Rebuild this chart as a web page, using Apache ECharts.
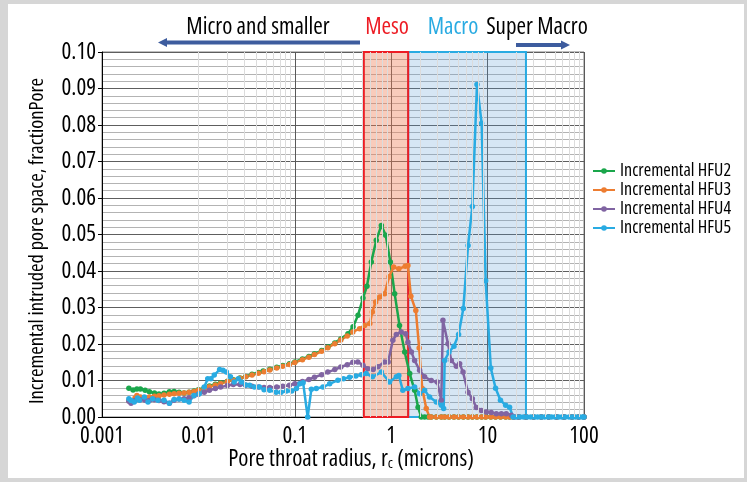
<!DOCTYPE html>
<html>
<head>
<meta charset="utf-8">
<script src="https://cdn.jsdelivr.net/npm/echarts@6/dist/echarts.min.js"></script>
<style>
  html, body { margin: 0; padding: 0; }
  #frame { position: relative; width: 747px; height: 482px; background: #d6d6d6; }
  #panel { position: absolute; left: 8px; top: 4px; width: 736px; height: 474px; background: #ffffff; }
  #chart { position: absolute; left: 0; top: 0; width: 747px; height: 482px; }
</style>
</head>
<body>
<div id="frame"><div id="panel"></div><div id="chart"></div></div>
<script>
// Tick labels
const radiusTicks = ['0.001', '0.01', '0.1', '1', '10', '100'];
const valueTicks = ['0.00', '0.01', '0.02', '0.03', '0.04', '0.05', '0.06', '0.07', '0.08', '0.09', '0.10'];

// Pore-size class bounds (microns)
const mesoRange = [0.52, 1.5];
const macroRange = [1.5, 25];

const seriesNames = ['Incremental HFU2', 'Incremental HFU3', 'Incremental HFU4', 'Incremental HFU5'];

// [pore throat radius (microns), incremental intruded pore space]
const hfu2 = [
  [0.0019,0.0079],[0.0021,0.0074],[0.0023,0.0077],[0.0025,0.0077],[0.0028,0.0073],[0.0031,0.0069],
  [0.0035,0.0066],[0.0039,0.0063],[0.0044,0.0065],[0.005,0.0069],[0.0056,0.0070],[0.0063,0.0068],
  [0.0071,0.0066],[0.008,0.0068],[0.009,0.0071],[0.01,0.0075],[0.0115,0.0080],[0.013,0.0085],
  [0.015,0.0090],[0.017,0.0094],[0.02,0.0098],[0.023,0.0102],[0.027,0.0107],[0.031,0.0111],
  [0.036,0.0117],[0.042,0.0122],[0.047,0.0126],[0.055,0.0131],[0.065,0.0136],[0.075,0.0141],
  [0.088,0.0146],[0.1,0.0151],[0.12,0.0159],[0.14,0.0166],[0.16,0.0173],[0.19,0.0182],
  [0.22,0.0192],[0.26,0.0203],[0.3,0.0214],[0.356,0.0228],[0.402,0.0247],[0.453,0.0279],
  [0.51,0.0326],[0.56,0.0358],[0.622,0.0425],[0.70,0.0484],[0.79,0.0525],[0.877,0.0498],
  [0.98,0.0425],[1.086,0.0338],[1.22,0.0251],[1.38,0.0178],[1.556,0.0119],[1.75,0.0073],
  [1.9,0.0027],[2.05,0],[2.22,0],[2.41,0],[2.6,0],[2.94,0],[3.31,0],[3.59,0],[3.98,0],[4.48,0],
  [5.0,0],[5.6,0],[6.27,0],[6.95,0],[7.76,0],[8.67,0],[9.55,0],[10.8,0],[12.1,0],[13.6,0],
  [15.4,0],[16.9,0],[18.4,0],[21,0],[25,0],[30,0],[36,0],[43,0],[52,0],[62,0],[75,0],[88,0],[100,0]
];

const hfu3 = [
  [0.0019,0.0045],[0.002,0.0041],[0.0022,0.0052],[0.0023,0.0059],[0.0025,0.0055],[0.0028,0.0052],
  [0.0031,0.0055],[0.0035,0.0057],[0.0039,0.0058],[0.0044,0.0060],[0.005,0.0062],[0.0056,0.0064],
  [0.0063,0.0065],[0.0071,0.0066],[0.008,0.0068],[0.009,0.0070],[0.01,0.0073],[0.0115,0.0078],
  [0.013,0.0083],[0.015,0.0088],[0.017,0.0092],[0.02,0.0097],[0.023,0.0101],[0.027,0.0106],
  [0.031,0.0110],[0.036,0.0115],[0.042,0.0120],[0.048,0.0124],[0.055,0.0129],[0.065,0.0134],
  [0.075,0.0139],[0.088,0.0144],[0.1,0.0149],[0.12,0.0157],[0.14,0.0164],[0.16,0.0171],
  [0.19,0.0180],[0.22,0.0190],[0.26,0.0201],[0.3,0.0211],[0.35,0.0222],[0.4,0.0233],
  [0.47,0.0242],[0.53,0.0251],[0.6,0.0256],[0.637,0.0288],[0.69,0.0315],[0.76,0.0329],
  [0.855,0.0338],[0.95,0.0384],[1.06,0.0411],[1.2,0.0406],[1.4,0.0413],[1.49,0.0415],
  [1.6,0.0331],[1.8,0.0292],[1.95,0.0189],[2.1,0.0078],[2.31,0.0023],[2.5,0],
  [2.6,0],[2.94,0],[3.31,0],[3.59,0],[3.98,0],[4.48,0],[5.0,0],[5.6,0],[6.27,0],[6.95,0],
  [7.76,0],[8.67,0],[9.55,0],[10.8,0],[12.1,0],[13.6,0],[15.4,0],[16.9,0],[18.4,0],
  [21,0],[25,0],[30,0],[36,0],[43,0],[52,0],[62,0],[75,0],[88,0],[100,0]
];

const hfu4 = [
  [0.0019,0.0043],[0.002,0.0038],[0.0022,0.0045],[0.0025,0.0047],[0.0028,0.0046],[0.0031,0.0045],
  [0.0035,0.0047],[0.0039,0.0045],[0.0044,0.0042],[0.005,0.0038],[0.0056,0.0046],[0.0063,0.0049],
  [0.0071,0.0050],[0.008,0.0053],[0.009,0.0058],[0.01,0.0062],[0.0115,0.0068],[0.013,0.0073],
  [0.015,0.0078],[0.017,0.0082],[0.02,0.0086],[0.023,0.0089],[0.027,0.0089],[0.031,0.0087],
  [0.036,0.0084],[0.042,0.0082],[0.048,0.0081],[0.055,0.0081],[0.065,0.0082],[0.075,0.0084],
  [0.088,0.0087],[0.1,0.0091],[0.12,0.0097],[0.14,0.0103],[0.16,0.0109],[0.19,0.0116],
  [0.22,0.0123],[0.26,0.0130],[0.3,0.0137],[0.35,0.0143],[0.4,0.0150],[0.45,0.0151],
  [0.51,0.0142],[0.57,0.0132],[0.65,0.0130],[0.73,0.0138],[0.855,0.0151],[0.93,0.0151],
  [1.04,0.0210],[1.13,0.0226],[1.27,0.0233],[1.41,0.0228],[1.49,0.0205],[1.62,0.0178],
  [1.75,0.0155],[1.97,0.0128],[2.22,0.0110],[2.6,0.0100],[3.0,0.0096],[3.31,0.0046],
  [3.44,0.0265],[3.88,0.0201],[4.2,0.0155],[4.74,0.0139],[5.13,0.0146],[5.56,0.0123],
  [6.26,0.0068],[6.95,0.0050],[7.64,0.0026],[8.6,0.0018],[9.7,0.0014],[10.9,0.0012],
  [12.3,0.0009],[13.9,0.0009],[15.6,0.0009],[17.6,0.0005],[19.1,0],
  [21,0],[25,0],[30,0],[36,0],[43,0],[52,0],[62,0],[75,0],[88,0],[100,0]
];

const hfu5 = [
  [0.0019,0.0050],[0.002,0.0045],[0.00216,0.0041],[0.00234,0.0052],[0.00244,0.0046],[0.00275,0.0055],
  [0.003,0.0041],[0.00335,0.0050],[0.0038,0.0046],[0.0044,0.0046],[0.005,0.0038],[0.0056,0.0048],
  [0.0063,0.0049],[0.0071,0.0046],[0.008,0.0041],[0.009,0.0059],[0.0102,0.0064],[0.0115,0.0082],
  [0.0125,0.0105],[0.0135,0.0105],[0.0146,0.0115],[0.0166,0.0130],[0.018,0.0128],[0.0195,0.0123],
  [0.0215,0.0110],[0.0235,0.0096],[0.026,0.0105],[0.028,0.0096],[0.031,0.0088],[0.034,0.0087],
  [0.038,0.0082],[0.043,0.0082],[0.048,0.0075],[0.055,0.0073],[0.064,0.0068],[0.072,0.0068],
  [0.082,0.0071],[0.093,0.0071],[0.104,0.0078],[0.113,0.0091],[0.122,0.0094],[0.136,0],
  [0.1485,0.0076],[0.167,0.0078],[0.196,0.0082],[0.23,0.0091],[0.28,0.0101],[0.32,0.0105],
  [0.37,0.0109],[0.43,0.0112],[0.49,0.0116],[0.55,0.0119],[0.64,0.0110],[0.79,0.0123],
  [0.96,0.0096],[1.13,0.0110],[1.2,0.0114],[1.32,0.0073],[1.49,0.0078],[1.75,0.0082],
  [1.97,0.0064],[2.22,0.0073],[2.5,0.0055],[2.94,0.0041],[3.31,0.0032],[3.5,0.0023],
  [3.59,0.0155],[3.98,0.0178],[4.48,0.0194],[5.0,0.0226],[5.6,0.0297],[6.27,0.0470],
  [6.95,0.0577],[7.76,0.0911],[8.67,0.0805],[9.55,0.0373],[10.8,0.0134],[12.1,0.0079],
  [13.6,0.0046],[15.4,0.0032],[16.9,0.0027],[18.4,0],[20,0],[21.7,0],[23.6,0],[25.7,0],
  [28,0],[30.5,0],[33,0],[36,0],[39,0],[42.5,0],[46,0],[50,0],[54.5,0],[59,0],[64,0],
  [70,0],[76,0],[82,0],[89,0],[96,0],[100,0]
];

// Condensed sans for all chart text
const FAMILY = "'Open Sans', sans-serif";
const STRETCH = 'condensed';
const font = px => STRETCH + ' ' + px + 'px ' + FAMILY;

const colors = ['#1aa64b', '#ed7d31', '#8064a2', '#29abe2'];

// light vertical grid at 2..9 within each decade
const minorRadii = [];
for (let k = -3; k <= 1; k++) {
  for (let m = 2; m <= 9; m++) minorRadii.push(+(m * Math.pow(10, k)).toPrecision(3));
}

function curve(name, data, color) {
  return {
    name, type: 'line', data, color,
    symbol: 'circle', symbolSize: 5.5, showSymbol: true,
    lineStyle: { width: 2.5, color },
    itemStyle: { color },
    clip: false, z: 3
  };
}

const chart = echarts.init(document.getElementById('chart'), null, { renderer: 'canvas' });

chart.setOption({
  animation: false,
  backgroundColor: 'transparent',
  textStyle: { fontFamily: FAMILY, fontStyle: STRETCH },
  grid: {
    left: 102, right: 163, top: 52, bottom: 65,
    show: true, backgroundColor: '#ffffff', borderColor: '#7f7f7f', borderWidth: 1
  },
  legend: {
    data: seriesNames,
    orient: 'vertical', left: 592, top: 162, padding: 0,
    itemWidth: 22, itemHeight: 7, itemGap: 1,
    textStyle: { fontSize: 18, color: '#000', fontFamily: FAMILY, fontStyle: STRETCH }
  },
  xAxis: {
    type: 'log', logBase: 10, min: 0.001, max: 100,
    axisLine: { show: true, onZero: false, lineStyle: { color: '#000', width: 1 } },
    axisTick: { show: false },
    axisLabel: {
      fontSize: 23, color: '#000', fontFamily: FAMILY, fontStyle: STRETCH, margin: 8,
      formatter: v => radiusTicks[Math.round(Math.log10(v)) + 3]
    },
    splitLine: { show: true, lineStyle: { color: '#595959', width: 1 } }
  },
  yAxis: {
    type: 'value', min: 0, max: 0.1, interval: 0.01,
    axisLine: { show: true, lineStyle: { color: '#000', width: 1 } },
    axisTick: { show: true, length: 4, lineStyle: { color: '#000' } },
    axisLabel: {
      fontSize: 23, color: '#000', fontFamily: FAMILY, fontStyle: STRETCH, margin: 6,
      formatter: v => valueTicks[Math.round(v * 100)]
    },
    splitLine: { show: true, lineStyle: { color: '#5e5e5e', width: 1 } },
    minorTick: { show: false, splitNumber: 5 },
    minorSplitLine: { show: true, lineStyle: { color: '#b3b3b3', width: 1 } }
  },
  series: [
    {
      name: 'minor-grid', type: 'line', data: [], silent: true, z: 1,
      markLine: {
        silent: true, symbol: ['none', 'none'], label: { show: false },
        lineStyle: { color: '#dcdcdc', width: 1, type: 'solid' },
        emphasis: { disabled: true },
        data: minorRadii.map(v => ({ xAxis: v }))
      }
    },
    curve(seriesNames[0], hfu2, colors[0]),
    curve(seriesNames[1], hfu3, colors[1]),
    curve(seriesNames[2], hfu4, colors[2]),
    curve(seriesNames[3], hfu5, colors[3]),
    {
      name: 'zones', type: 'line', data: [], silent: true, z: 10,
      markArea: {
        silent: true,
        emphasis: { disabled: true },
        data: [
          [
            { xAxis: macroRange[0], yAxis: 0,
              itemStyle: { color: 'rgba(91,155,213,0.25)', borderColor: '#29abe2', borderWidth: 2 } },
            { xAxis: macroRange[1], yAxis: 0.1 }
          ],
          [
            { xAxis: mesoRange[0], yAxis: 0,
              itemStyle: { color: 'rgba(240,125,85,0.4)', borderColor: '#ed1c24', borderWidth: 2 } },
            { xAxis: mesoRange[1], yAxis: 0.1 }
          ]
        ]
      }
    }
  ],
  graphic: [
    { type: 'text', x: 258, y: 27, style: { text: 'Micro and smaller', font: font(23), fill: '#000', align: 'center', verticalAlign: 'middle' } },
    { type: 'text', x: 387, y: 27, style: { text: 'Meso', font: font(23), fill: '#ed1c24', align: 'center', verticalAlign: 'middle' } },
    { type: 'text', x: 453, y: 27, style: { text: 'Macro', font: font(23), fill: '#29abe2', align: 'center', verticalAlign: 'middle' } },
    { type: 'text', x: 537, y: 27, style: { text: 'Super Macro', font: font(23), fill: '#000', align: 'center', verticalAlign: 'middle' } },
    // arrows
    { type: 'line', shape: { x1: 360, y1: 42.5, x2: 166, y2: 42.5 }, style: { stroke: '#3d5c9e', lineWidth: 4 } },
    { type: 'polygon', shape: { points: [[158, 42.5], [167, 38], [167, 47]] }, style: { fill: '#3d5c9e' } },
    { type: 'line', shape: { x1: 516, y1: 45, x2: 562, y2: 45 }, style: { stroke: '#3d5c9e', lineWidth: 4 } },
    { type: 'polygon', shape: { points: [[570, 45], [561, 40.5], [561, 49.5]] }, style: { fill: '#3d5c9e' } },
    // axis titles
    { type: 'text', x: 37, y: 241, rotation: Math.PI / 2,
      style: { text: 'Incremental intruded pore space, fractionPore', font: font(20.5), fill: '#000', align: 'center', verticalAlign: 'middle' } },
    { type: 'text', x: 351, y: 459,
      style: {
        text: 'Pore throat radius, r{s|c} (microns)', font: font(23), fill: '#000',
        align: 'center', verticalAlign: 'middle',
        rich: { s: { fontSize: 15, fontFamily: FAMILY, fontStyle: STRETCH, fill: '#000', padding: [9, 0, 0, 0] } }
      } }
  ]
});
</script>
</body>
</html>
